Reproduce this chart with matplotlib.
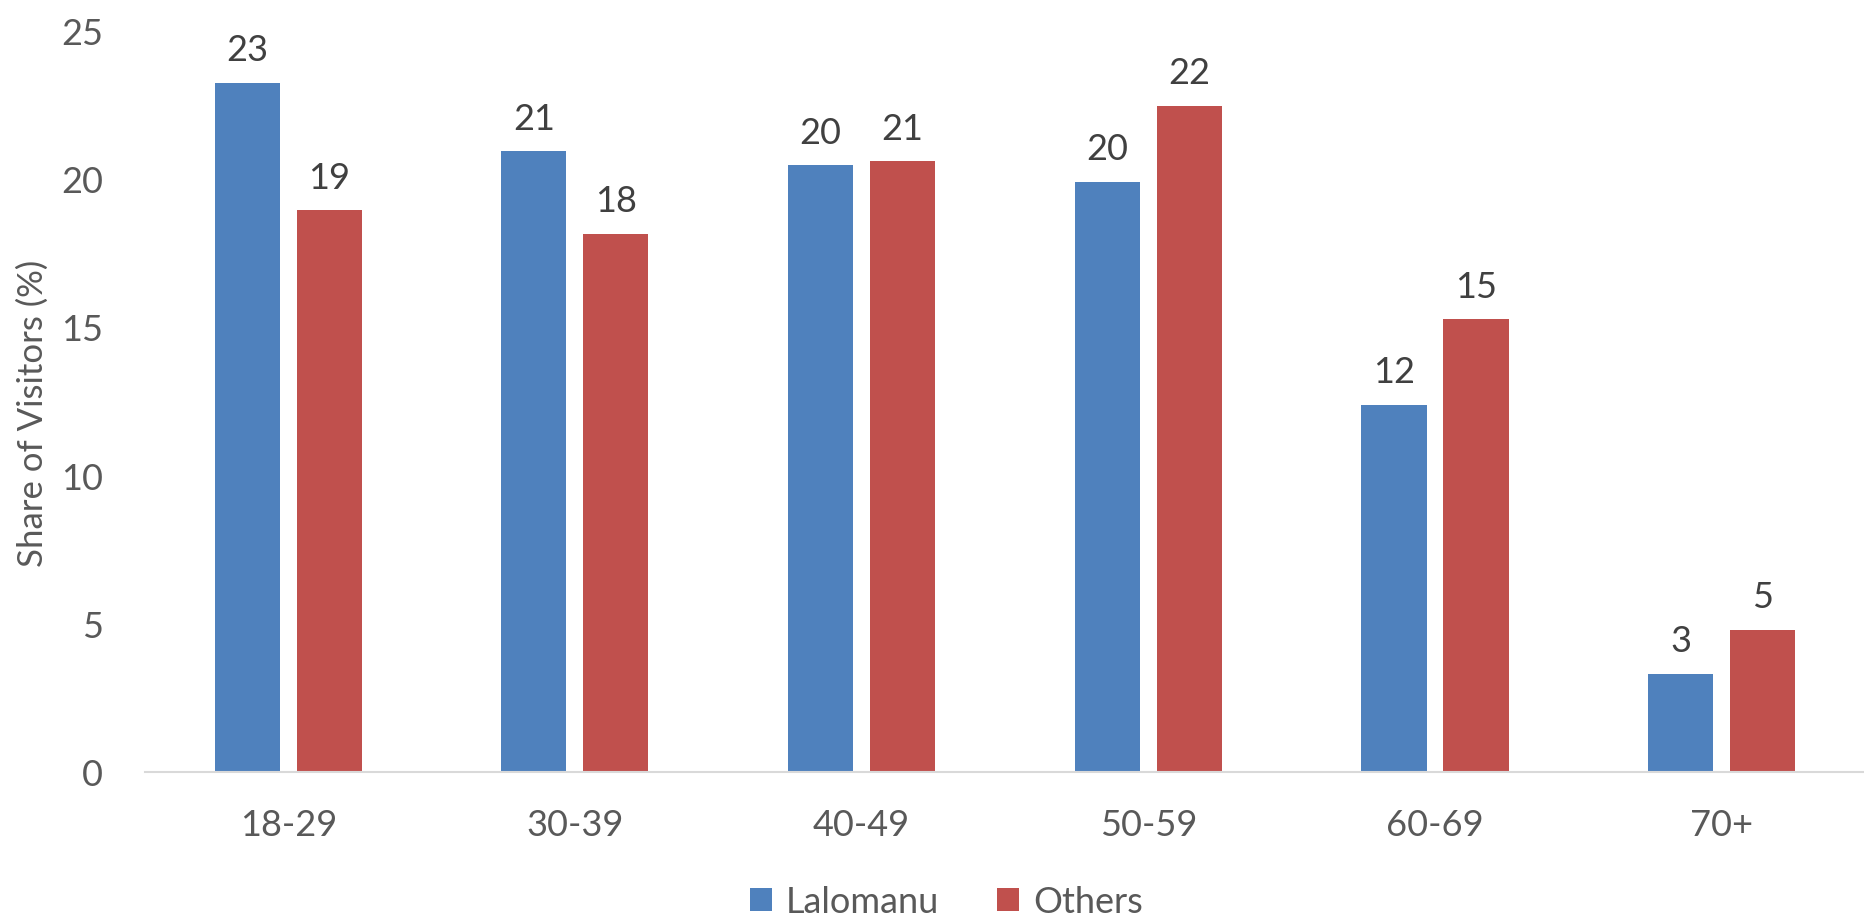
import numpy as np
import matplotlib
matplotlib.use("Agg")
import matplotlib.pyplot as plt

# Age groups and visitor shares (%)
age_groups = ["18-29", "30-39", "40-49", "50-59", "60-69", "70+"]
lalomanu = [23.23, 20.91, 20.44, 19.88, 12.36, 3.31]
others = [18.92, 18.14, 20.57, 22.45, 15.25, 4.78]
series_names = ["Lalomanu", "Others"]
y_ticks = [0, 5, 10, 15, 20, 25]

BLUE = "#4F81BD"
RED = "#C0504D"
TICK_GREY = "#595959"
LABEL_DARK = "#404040"
FS = 26

plt.rcParams["font.family"] = ["Lato", "DejaVu Sans"]

fig = plt.figure(figsize=(18.65, 9.2), dpi=100)
ax = fig.add_axes([0.0777, 0.1598, 0.9223, 0.8065])

x = np.arange(len(age_groups))
width = 0.227
offset = 0.143

bars_a = ax.bar(x - offset, lalomanu, width, color=BLUE, label=series_names[0])
bars_b = ax.bar(x + offset, others, width, color=RED, label=series_names[1])

for bars in (bars_a, bars_b):
    for b in bars:
        h = b.get_height()
        ax.annotate(f"{h:.0f}", (b.get_x() + b.get_width() / 2, h),
                    xytext=(0, 12), textcoords="offset points",
                    ha="center", va="bottom", fontsize=FS, color=LABEL_DARK)

ax.set_xlim(-0.5, len(age_groups) - 0.5)
ax.set_ylim(0, 25)
ax.set_yticks(y_ticks)
ax.set_xticks(x)
ax.set_xticklabels(age_groups)

for side in ("top", "right", "left"):
    ax.spines[side].set_visible(False)
ax.spines["bottom"].set_color("#D9D9D9")
ax.spines["bottom"].set_linewidth(1.5)

ax.tick_params(axis="y", length=0, pad=30, labelsize=FS, labelcolor=TICK_GREY)
ax.tick_params(axis="x", length=0, pad=26, labelsize=FS, labelcolor=TICK_GREY)

ax.set_ylabel("Share of Visitors (%)", fontsize=FS - 1, color=TICK_GREY)
ax.yaxis.set_label_coords(-0.056, 0.485)

ax.legend(loc="center", bbox_to_anchor=(0.466, -0.175),
          ncol=2, frameon=False, fontsize=FS, handlelength=0.6, handleheight=0.6,
          handletextpad=0.4, columnspacing=1.6, labelcolor=TICK_GREY)

fig.savefig("out.png", dpi=100, facecolor="white")
